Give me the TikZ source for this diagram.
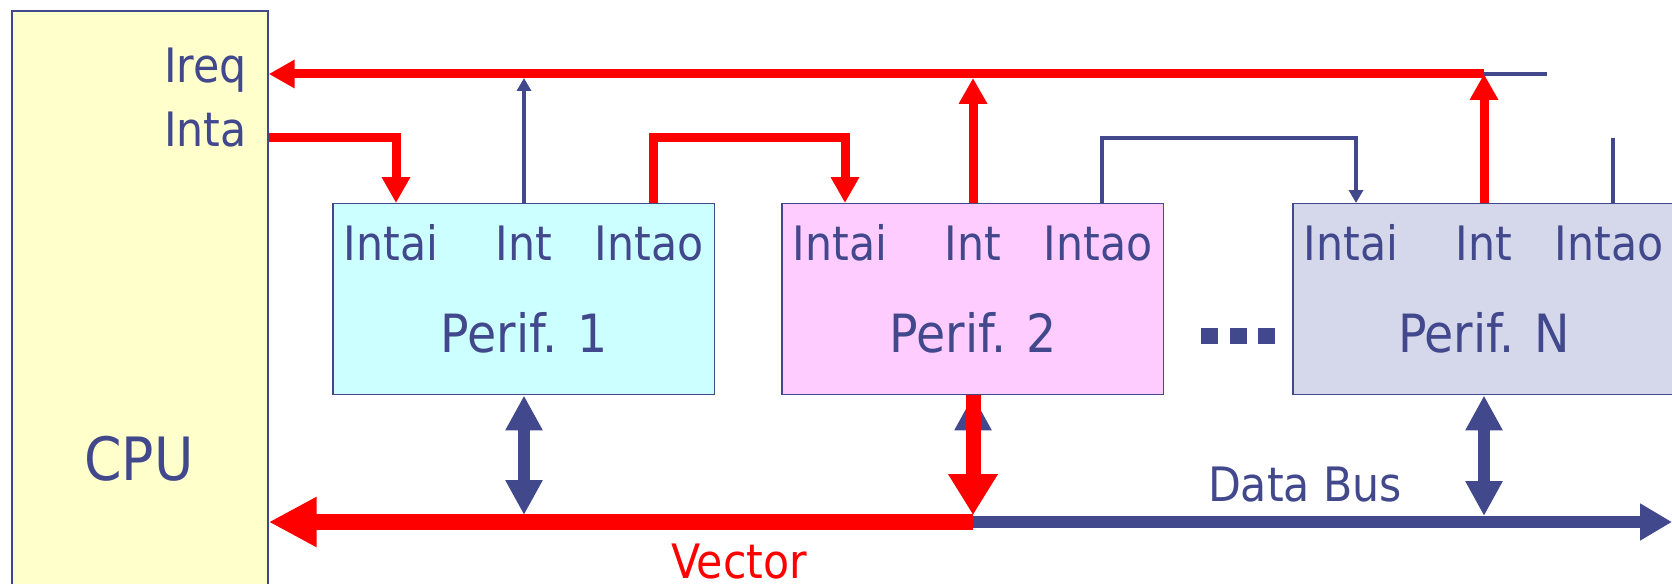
\documentclass[tikz,border=0pt]{standalone}
\usepackage{fontspec}
\setmainfont{DejaVu Sans Condensed}
\usetikzlibrary{arrows.meta,calc}

\definecolor{navy}{RGB}{66,72,140}
\definecolor{cpufill}{RGB}{255,255,204}
\definecolor{perifA}{RGB}{204,255,255}
\definecolor{perifB}{RGB}{255,204,255}
\definecolor{perifC}{RGB}{213,216,235}

\tikzset{
  box/.style={draw=navy, line width=0.03cm, inner sep=0pt},
  perif/.style={box, minimum width=7.64cm, minimum height=3.82cm, anchor=north west},
  pinlbl/.style={text=navy, anchor=base, inner sep=0pt, font=\fontsize{27}{30}\selectfont},
  periflbl/.style={text=navy, anchor=base, inner sep=0pt, font=\fontsize{30}{34}\selectfont},
  sig/.style={draw=red, line width=0.18cm},
  wire/.style={draw=navy, line width=0.08cm},
  sigtip/.style={-{Triangle[length=0.52cm,width=0.54cm]}},
  wiretip/.style={-{Triangle[length=0.26cm,width=0.28cm]}},
  dbl/.style={draw=navy, line width=0.24cm,
    {Triangle[length=0.7cm,width=0.7cm]}-{Triangle[length=0.7cm,width=0.7cm]}},
}

\begin{document}
\begin{tikzpicture}[x=0.02cm, y=-0.02cm] % daisy chain
  \fill[white] (0,0) rectangle (1672,584);
  \useasboundingbox (0,0) rectangle (1672,584);

  \node[box, fill=cpufill, minimum width=5.12cm, minimum height=11.8cm] (cpu) at (140,306) {};
  \node[pinlbl, anchor=base east] (ireq) at (247,83) {Ireq};
  \node[pinlbl, anchor=base east] (inta) at (247,147) {Inta};
  \node[text=navy, anchor=base, inner sep=0pt, font=\fontsize{34}{38}\selectfont] (cpulbl) at (139,480) {CPU};

  \coordinate (irq) at (0,74);
  \coordinate (ack) at (0,138);
  \coordinate (bus) at (0,522);
  \coordinate (busend) at (1672,522);

  \foreach \k/\x/\c/\t in {1/332/perifA/1, 2/781/perifB/2, N/1292/perifC/N} {
    \node[perif, fill=\c] (p\k) at (\x,203) {};
    \node[pinlbl] (p\k-tai) at ($(p\k.north west)+(59,57)$) {Intai};
    \node[pinlbl] (p\k-ti) at ($(p\k.north west)+(192,57)$) {Int};
    \node[pinlbl] (p\k-tao) at ($(p\k.north west)+(317,57)$) {Intao};
    \node[periflbl] (p\k-name) at ($(p\k.north west)+(192,149)$) {Perif. \t};
    \coordinate (p\k-ai) at ($(p\k.north west)+(64,0)$);
    \coordinate (p\k-i) at ($(p\k.north west)+(192,0)$);
    \coordinate (p\k-ao) at ($(p\k.north west)+(321,0)$);
    \coordinate (p\k-b) at ($(p\k.south west)+(192,0)$);
  }

  % dots between the boxes
  \foreach \d in {1209,1238,1266}
    \fill[navy] ({\d-8},328) rectangle ++(17,16);

  % request line
  \draw[wire] (pN-i |- irq) -- ++(63,0);
  \draw[sig, sigtip] (pN-i |- irq) -- (cpu.east |- irq);
  \draw[wire, wiretip] (p1-i) -- ($(p1-i |- irq)+(0,4)$);
  \draw[sig, sigtip] (p2-i) -- ($(p2-i |- irq)+(0,4)$);
  \draw[sig, sigtip] (pN-i) -- (pN-i |- irq);

  % acknowledge chain
  \draw[sig, sigtip] (cpu.east |- ack) -- (p1-ai |- ack) -- (p1-ai);
  \draw[sig, sigtip] (p1-ao) -- (p1-ao |- ack) -- (p2-ai |- ack) -- (p2-ai);
  \draw[wire, wiretip] (p2-ao) -- (p2-ao |- ack) -- (pN-ai |- ack) -- (pN-ai);
  \draw[wire] (pN-ao) -- (pN-ao |- ack);

  % buses
  \draw[dbl] (p2-b) -- ($(p2-b |- bus)+(0,-7)$);
  \draw[draw=navy, line width=0.24cm, -{Triangle[length=0.64cm,width=0.7cm]}] (p2-b |- bus) -- (busend);
  \draw[draw=red, line width=0.32cm, -{Triangle[length=0.96cm,width=0.94cm]}] (p2-b |- bus) -- (cpu.east |- bus);
  \draw[draw=red, line width=0.3cm, -{Triangle[length=0.82cm,width=0.94cm]}] (p2-b) -- ($(p2-b |- bus)+(0,-7)$);
  \draw[dbl] (p1-b) -- ($(p1-b |- bus)+(0,-7)$);
  \draw[dbl] (pN-b) -- ($(pN-b |- bus)+(0,-6)$);

  \node[pinlbl] (dbus) at (1305,501) {Data Bus};
  \node[pinlbl, text=red] (vec) at (739,578) {Vector};
\end{tikzpicture}
\end{document}
